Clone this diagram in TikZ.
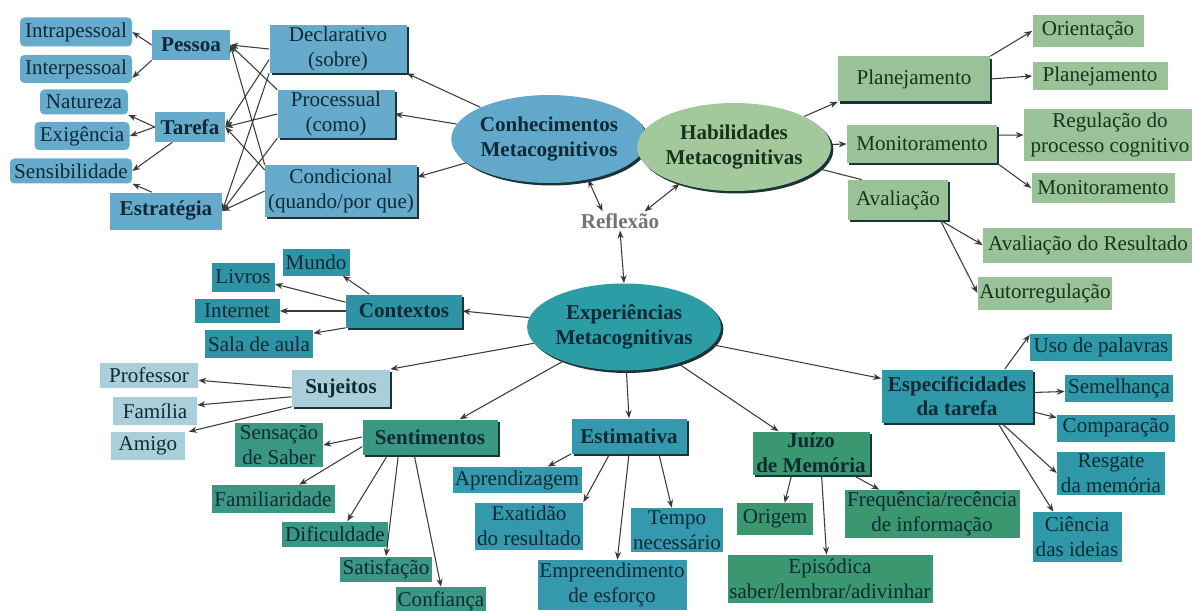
\documentclass[tikz,border=0pt]{standalone}
\usepackage{fontspec}
\setmainfont{Liberation Serif}
\usetikzlibrary{shapes.geometric,arrows.meta,shadows}
\newdimen\pxu \pxu=0.02cm
\definecolor{txt}{HTML}{0F2A35}
\definecolor{txtg}{HTML}{1A321C}
\definecolor{linec}{HTML}{3A3A3A}
\definecolor{shadowc}{HTML}{1B3236}
\definecolor{kblue}{HTML}{66AACC}
\definecolor{kell}{HTML}{62A8CB}
\definecolor{hgreen}{HTML}{9AC298}
\definecolor{hell}{HTML}{A2C89C}
\definecolor{eell}{HTML}{2C9CA5}
\definecolor{ctxc}{HTML}{2E93A5}
\definecolor{sujc}{HTML}{A9CFDA}
\definecolor{sentc}{HTML}{3A9783}
\definecolor{estc}{HTML}{3599AD}
\definecolor{juic}{HTML}{3A976F}
\definecolor{espc}{HTML}{2E98A8}
\definecolor{reflc}{HTML}{737373}
\tikzset{
  every node/.style={font=\fontsize{12pt}{14pt}\selectfont, text=txt, align=center, inner sep=1pt},
  lbox/.style={rectangle, fill=#1},
  rbox/.style={rectangle, fill=#1, rounded corners=2.5pt},
  bbox/.style={rectangle, fill=#1, font=\fontsize{12pt}{14pt}\selectfont\bfseries},
  shd/.style={general shadow={shadow xshift=1.4pt, shadow yshift=-1.4pt, fill=shadowc}},
  sbox/.style={rectangle, fill=#1, shd},
  sbbox/.style={rectangle, fill=#1, shd, font=\fontsize{12pt}{14pt}\selectfont\bfseries},
  ell/.style={ellipse, fill=#1, shd, inner sep=0pt, font=\fontsize{12pt}{14pt}\selectfont\bfseries},
  gtx/.style={text=txtg},
  arr/.style={draw=linec, line width=0.6pt, -{Stealth[length=4.5pt,width=3.5pt]}},
  darr/.style={draw=linec, line width=0.6pt, {Stealth[length=4.5pt,width=3.5pt]}-{Stealth[length=4.5pt,width=3.5pt]}},
  ln/.style={draw=linec, line width=0.6pt},
}
\newcommand\mybox[7]{\node[#6,minimum width=#4\pxu,minimum height=#5\pxu] (#1) at (#2,#3) {#7};}
\begin{document}
\begin{tikzpicture}[x=\pxu,y=-\pxu]
\useasboundingbox[fill=white] (0,0) rectangle (1192,611);
% ---------- Conhecimentos ----------
\mybox{intra}{76}{32}{112}{29}{rbox=kblue}{Intrapessoal}
\mybox{inter}{76}{69}{112}{28}{rbox=kblue}{Interpessoal}
\mybox{pessoa}{191}{45}{78}{30}{bbox=kblue}{Pessoa}
\mybox{nat}{84}{102}{88}{25}{rbox=kblue}{Natureza}
\mybox{exig}{82}{136}{95}{28}{rbox=kblue}{Exigência}
\mybox{tarefa}{190}{127}{70}{30}{bbox=kblue}{Tarefa}
\mybox{sensib}{71}{171}{122}{25}{rbox=kblue}{Sensibilidade}
\mybox{estr}{166}{211}{112}{37}{bbox=kblue}{Estratégia}
\mybox{decl}{338}{49}{137}{48}{sbox=kblue}{Declarativo\\(sobre)}
\mybox{proc}{336}{114}{117}{48}{sbox=kblue}{Processual\\(como)}
\mybox{cond}{341}{191}{152}{52}{sbox=kblue}{Condicional\\(quando/por que)}
\mybox{conh}{549}{139}{178}{88}{ell=kell}{Conhecimentos\\Metacognitivos}
% ---------- Habilidades ----------
\mybox{hab}{734}{147}{168}{88}{ell=hell,gtx}{Habilidades\\Metacognitivas}
\mybox{plan}{914}{79}{152}{45}{sbox=hgreen,gtx}{Planejamento}
\mybox{orient}{1088}{31}{111}{32}{lbox=hgreen,gtx}{Orientação}
\mybox{plantwo}{1100}{76}{135}{28}{lbox=hgreen,gtx}{Planejamento}
\mybox{mon}{922}{144}{150}{38}{sbox=hgreen,gtx}{Monitoramento}
\mybox{reg}{1110}{135}{172}{52}{lbox=hgreen,gtx}{Regulação do\\processo cognitivo}
\mybox{montwo}{1103}{188}{143}{30}{lbox=hgreen,gtx}{Monitoramento}
\mybox{aval}{898}{200}{100}{40}{sbox=hgreen,gtx}{Avaliação}
\mybox{avres}{1088}{245}{210}{35}{lbox=hgreen,gtx}{Avaliação do Resultado}
\mybox{autor}{1045}{293}{120}{33}{lbox=hgreen,gtx}{Autorregulação}
% ---------- Reflexao ----------
\node[font=\fontsize{12pt}{14pt}\selectfont\bfseries, text=reflc] (refl) at (620,221) {Reflexão};
% ---------- Experiencias ----------
\mybox{exp}{624}{327}{172}{87}{ell=eell}{Experiências\\Metacognitivas}
\mybox{ctx}{404}{311}{116}{33}{sbbox=ctxc}{Contextos}
\mybox{mundo}{316}{262}{67}{27}{lbox=ctxc}{Mundo}
\mybox{livros}{243}{277}{63}{29}{lbox=ctxc}{Livros}
\mybox{internet}{237}{311}{85}{24}{lbox=ctxc}{Internet}
\mybox{sala}{259}{344}{108}{28}{lbox=ctxc}{Sala de aula}
\mybox{suj}{341}{388}{98}{37}{sbbox=sujc}{Sujeitos}
\mybox{prof}{149}{375}{98}{25}{lbox=sujc}{Professor}
\mybox{fam}{155}{411}{84}{28}{lbox=sujc}{Família}
\mybox{amigo}{148}{446}{74}{28}{lbox=sujc}{Amigo}
\mybox{sent}{430}{437}{135}{35}{sbbox=sentc}{Sentimentos}
\mybox{sens}{279}{445}{88}{44}{lbox=sentc}{Sensação\\de Saber}
\mybox{famil}{273}{499}{123}{28}{lbox=sentc}{Familiaridade}
\mybox{dif}{335}{534}{106}{25}{lbox=sentc}{Dificuldade}
\mybox{sat}{386}{569}{92}{25}{lbox=sentc}{Satisfação}
\mybox{conf}{441}{601}{82}{28}{lbox=sentc}{Confiança}
\mybox{est}{629}{436}{115}{35}{sbbox=estc}{Estimativa}
\mybox{aprend}{517}{480}{129}{26}{lbox=estc}{Aprendizagem}
\mybox{exat}{529}{526}{108}{47}{lbox=estc}{Exatidão\\do resultado}
\mybox{tempo}{677}{530}{91}{44}{lbox=estc}{Tempo\\necessário}
\mybox{emp}{612}{585}{149}{50}{lbox=estc}{Empreendimento\\de esforço}
\mybox{juizo}{811}{453}{117}{43}{sbbox=juic}{Juízo\\de Memória}
\mybox{orig}{775}{519}{76}{32}{lbox=juic}{Origem}
\mybox{freq}{932}{514}{175}{48}{lbox=juic}{Frequência/recência\\de informação}
\mybox{epis}{830}{579}{205}{48}{lbox=juic}{Episódica\\saber/lembrar/adivinhar}
\mybox{esp}{957}{396}{151}{53}{sbbox=espc}{Especificidades\\da tarefa}
\mybox{uso}{1101}{347}{142}{27}{lbox=espc}{Uso de palavras}
\mybox{sem}{1119}{388}{108}{27}{lbox=espc}{Semelhança}
\mybox{comp}{1116}{428}{118}{27}{lbox=espc}{Comparação}
\mybox{resg}{1111}{473}{108}{43}{lbox=espc}{Resgate\\da memória}
\mybox{cien}{1077}{537}{89}{50}{lbox=espc}{Ciência\\das ideias}
% ---------- connectors: Conhecimentos ----------
\draw[arr] (pessoa.west) -- (intra.east);
\draw[arr] (pessoa.south west) -- ([yshift=-5pt]inter.east);
\draw[arr] (tarefa.west) -- (nat.south east);
\draw[arr] (tarefa.west) -- (exig.east);
\draw[arr] ([xshift=10pt]tarefa.south west) -- (sensib.east);
\draw[arr] ([xshift=24pt]estr.north west) -- (sensib.south east);
\draw[arr] (decl.west) -- (pessoa.east);
\draw[arr] ([yshift=-6pt]decl.west) -- (tarefa.east);
\draw[arr] (decl.south west) -- (estr.east);
\draw[arr] (proc.north west) -- (pessoa.east);
\draw[arr] (proc.west) -- (tarefa.east);
\draw[arr] (proc.south west) -- (estr.east);
\draw[arr] (cond.north west) -- (pessoa.east);
\draw[arr] ([yshift=-3pt]cond.north west) -- (tarefa.east);
\draw[arr] (cond.west) -- (estr.east);
\draw[arr] (conh) -- (decl.south east);
\draw[arr] (conh) -- (proc.east);
\draw[arr] (conh) -- ([yshift=8pt]cond.east);
% ---------- Reflexao ----------
\draw[darr] (conh.314) -- ([xshift=-10pt]refl.north);
\draw[darr] (hab.214) -- ([xshift=14pt]refl.north);
\draw[darr] (exp.north) -- (refl.south);
% ---------- Habilidades ----------
\draw[arr] (hab) -- (plan.south west);
\draw[arr] (hab) -- (mon.west);
\draw[ln] (hab) -- ([xshift=8pt]aval.north west);
\draw[arr] (plan.north east) -- (orient.west);
\draw[arr] (plan.east) -- (plantwo.west);
\draw[arr] ([yshift=5pt]mon.east) -- (reg.west);
\draw[arr] (mon.south east) -- (montwo.west);
\draw[arr] ([xshift=-4.5pt]aval.south east) -- (avres.west);
\draw[arr] ([xshift=-4.5pt]aval.south east) -- (autor.west);
% ---------- Experiencias ----------
\draw[arr] (exp) -- (ctx.east);
\draw[arr] (exp) -- (suj.north east);
\draw[arr] (exp) -- ([xshift=17pt]sent.north);
\draw[arr] (exp) -- (est.north);
\draw[arr] (exp) -- ([xshift=15pt]juizo.north west);
\draw[arr] (exp) -- ([yshift=10pt]esp.west);
\draw[arr] ([xshift=13.5pt]ctx.north west) -- ([xshift=-4pt]mundo.south east);
\draw[arr] ([yshift=5pt]ctx.west) -- ([yshift=-4pt]livros.east);
\draw[arr] (ctx.west) -- (internet.east);
\draw[arr] (ctx.south west) -- ([yshift=-2pt]sala.north east);
\draw[arr] (suj.west) -- ([yshift=-3pt]prof.east);
\draw[arr] ([yshift=-5pt]suj.west) -- ([yshift=3.4pt]fam.east);
\draw[arr] (suj.south west) -- ([xshift=2pt]amigo.north east);
\draw[arr] (sent.west) -- (sens.east);
\draw[arr] ([yshift=-5.5pt]sent.west) -- ([xshift=15pt]famil.north);
\draw[arr] ([xshift=-24pt]sent.south) -- ([xshift=7pt]dif.north);
\draw[arr] ([xshift=-18pt]sent.south) -- (sat.north);
\draw[arr] ([xshift=-9pt]sent.south) -- (conf.north);
\draw[arr] (est.south west) -- ([xshift=17.5pt]aprend.north);
\draw[arr] ([xshift=-11pt]est.south) -- (exat.north east);
\draw[arr] (est.south) -- ([xshift=3pt]emp.north);
\draw[arr] ([xshift=17pt]est.south) -- ([xshift=-3pt]tempo.north);
\draw[arr] ([xshift=-11pt]juizo.south) -- ([xshift=5.5pt]orig.north);
\draw[arr] ([xshift=6pt]juizo.south) -- ([xshift=-2pt]epis.north);
\draw[arr] ([xshift=-10pt]juizo.south east) -- ([xshift=20pt]freq.north west);
\draw[arr] ([xshift=-16pt]esp.north east) -- ([yshift=-1pt]uso.north west);
\draw[arr] ([yshift=2pt]esp.east) -- ([yshift=-2pt]sem.west);
\draw[arr] ([yshift=-9pt]esp.east) -- ([yshift=-2pt]comp.north west);
\draw[arr] ([xshift=-18pt]esp.south east) -- (resg.west);
\draw[arr] ([xshift=-20pt]esp.south east) -- ([xshift=-13.5pt]cien.north);
\end{tikzpicture}
\end{document}
